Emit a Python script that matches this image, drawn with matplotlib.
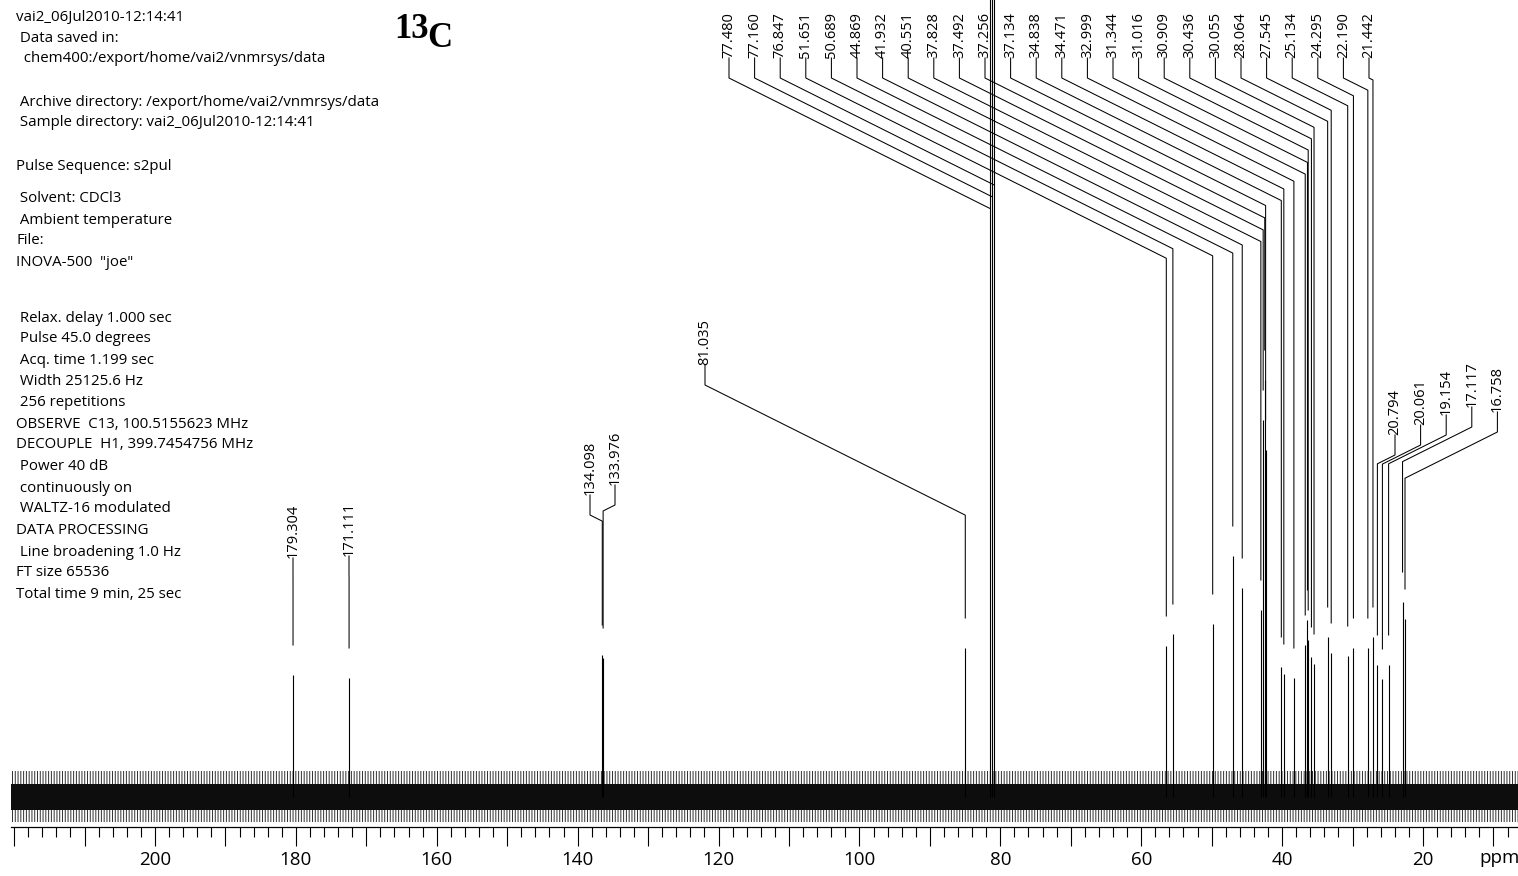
import matplotlib
matplotlib.use("Agg")
import matplotlib.pyplot as plt
from matplotlib.lines import Line2D
from matplotlib.transforms import Affine2D
from matplotlib.ticker import FixedLocator, MultipleLocator

W, H = 1518, 876

# peak positions (ppm) and heights (arbitrary units, 1 unit ~ 1 px)
PEAK_PPM = [179.304, 171.111, 134.098, 133.976, 81.035,
            77.480, 77.160, 76.847, 51.651, 50.689, 44.869, 41.932,
            40.551, 37.828, 37.492, 37.256, 37.134, 34.838, 34.471,
            32.999, 31.344, 31.016, 30.909, 30.436, 30.055, 28.064,
            27.545, 25.134, 24.295, 22.190, 21.442,
            20.794, 20.061, 19.154, 17.117, 16.758]
PEAK_HEIGHT = [122, 119, 142, 139, 149,
               1500, 1500, 1500, 151, 163, 173, 241,
               209, 187, 377, 417, 347, 130, 123,
               119, 152, 177, 157, 140, 133, 160,
               144, 141, 149, 149, 160,
               132, 118, 132, 195, 178]

NOISE_CORE = (-13, 13)
NOISE_EDGE = (-25, 26)

X_TICKS = [200, 180, 160, 140, 120, 100, 80, 60, 40, 20]

HEADER = [
    ("vai2_06Jul2010-12:14:41", 18),
    (" Data saved in:", 39),
    ("  chem400:/export/home/vai2/vnmrsys/data", 59),
    (" Archive directory: /export/home/vai2/vnmrsys/data", 102),
    (" Sample directory: vai2_06Jul2010-12:14:41", 123),
    ("Pulse Sequence: s2pul", 167),
    (" Solvent: CDCl3", 199),
    (" Ambient temperature", 220),
    ("File:", 241),
    ("INOVA-500  \"joe\"", 263),
    (" Relax. delay 1.000 sec", 318),
    (" Pulse 45.0 degrees", 339),
    (" Acq. time 1.199 sec", 360),
    (" Width 25125.6 Hz", 381),
    (" 256 repetitions", 403),
    ("OBSERVE  C13, 100.5155623 MHz", 424),
    ("DECOUPLE  H1, 399.7454756 MHz", 445),
    (" Power 40 dB", 466),
    (" continuously on", 488),
    (" WALTZ-16 modulated", 509),
    ("DATA PROCESSING", 531),
    (" Line broadening 1.0 Hz", 552),
    ("FT size 65536", 573),
    ("Total time 9 min, 25 sec", 595),
]

# label layout in pixels (x of label, bottom of label text)
label_x = [293, 349, 590, 615, 705] + [729 + 25.6 * i for i in range(26)] \
    + [1395 + 25.6 * i for i in range(5)]
label_bottom = [558, 556, 495, 485, 365] + [58] * 26 + [435, 425, 415, 407, 412]
KNEE_DROP = 20
SLOPE = 0.5
GAP = 30

plt.rcParams['font.family'] = ['Open Sans', 'DejaVu Sans']
plt.rcParams['hatch.linewidth'] = 0.7

fig = plt.figure(figsize=(W / 100, H / 100), dpi=100)
left_px, axis_px = 11, 827
rect = [left_px / W, (H - axis_px) / H, (W - left_px) / W, axis_px / H]

# ppm scale as printed under the spectrum
ax_scale = fig.add_axes(rect)
ax_scale.patch.set_alpha(0)
ax_scale.set_xlim(220.44, 6.51)
for s in ['left', 'right', 'top']:
    ax_scale.spines[s].set_visible(False)
ax_scale.spines['bottom'].set_linewidth(0.9)
ax_scale.set_yticks([])
majors = list(range(220, 0, -10))
ax_scale.xaxis.set_major_locator(FixedLocator(majors))
ax_scale.xaxis.set_minor_locator(MultipleLocator(2))
ax_scale.set_xticklabels([str(t) if t in X_TICKS else '' for t in majors])
ax_scale.tick_params(axis='x', which='major', length=14, width=0.8, pad=3,
                     labelsize=13.5)
ax_scale.tick_params(axis='x', which='minor', length=7.5, width=0.8)

# spectrum
ax = fig.add_axes(rect, sharey=None)
ax.patch.set_alpha(0)
ax.set_xlim(220.53, 0.24)
ax.set_ylim(-30, 797)
ax.axis('off')

ax.fill_between([220.53, 0.24], NOISE_EDGE[0], NOISE_EDGE[1],
                facecolor='white', edgecolor='#303030', hatch='||||||', lw=0)
ax.fill_between([220.53, 0.24], NOISE_CORE[0], NOISE_CORE[1],
                color='#0d0d0d', lw=0)
ax.vlines(PEAK_PPM, 0, PEAK_HEIGHT, colors='black', lw=0.8)

fig.text(1500 / W, 1 - 858 / H, 'ppm', ha='center', va='center', fontsize=13.5)

# pixel coordinates measured from the top-left corner
px = Affine2D().scale(1, -1).translate(0, H)

for ppm, h, lx, lb in zip(PEAK_PPM, PEAK_HEIGHT, label_x, label_bottom):
    x_peak = ax.transData.transform((ppm, 0))[0]
    top = H - ax.transData.transform((ppm, h))[1]
    y1 = lb + KNEE_DROP
    y2 = y1 + SLOPE * abs(x_peak - lx)
    y3 = max(top - GAP, y2)
    fig.add_artist(Line2D([lx, lx, x_peak, x_peak], [lb, y1, y2, y3],
                          transform=px, color='black', lw=0.75))
    fig.text(lx / W, 1 - lb / H, f"{ppm:.3f}", rotation=90, ha='center',
             va='bottom', fontsize=10.5)

for txt, y in HEADER:
    fig.text(16 / W, 1 - y / H, txt, ha='left', va='center', fontsize=10.8)

serif = ['Liberation Serif', 'DejaVu Serif']
fig.text(394 / W, 1 - 38 / H, '13', family=serif, weight='bold',
         fontsize=25, ha='left', va='baseline')
fig.text(427 / W, 1 - 47 / H, 'C', family=serif, weight='bold',
         fontsize=25, ha='left', va='baseline')

fig.savefig('out.png', dpi=100)
